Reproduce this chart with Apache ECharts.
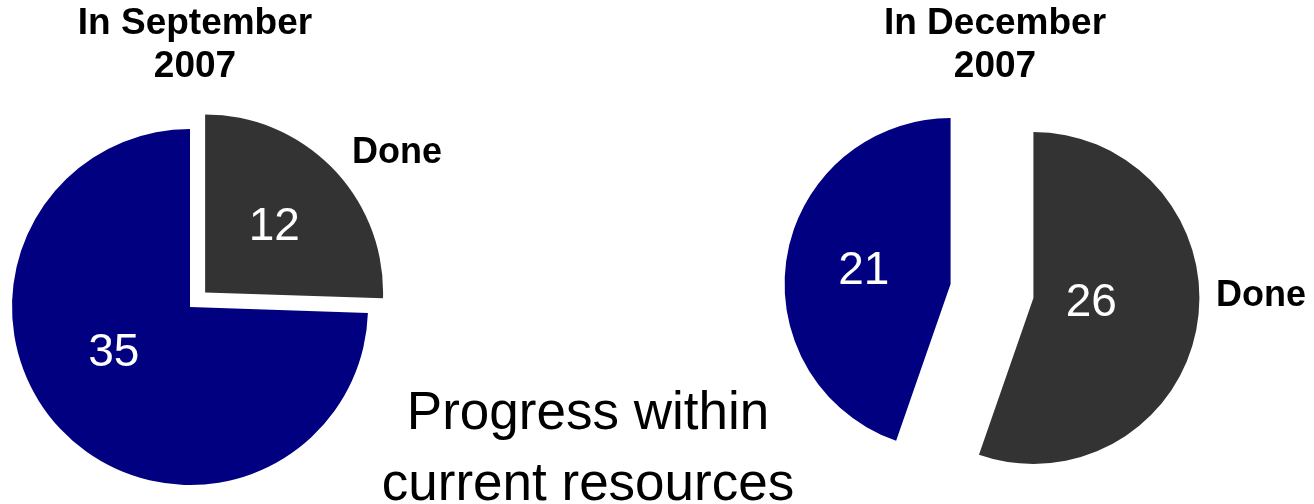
<!DOCTYPE html>
<html>
<head>
<meta charset="utf-8">
<script src="https://cdn.jsdelivr.net/npm/echarts@6/dist/echarts.min.js"></script>
<style>
html,body{margin:0;padding:0;background:#fff;}
#chart{width:1314px;height:504px;}
</style>
</head>
<body>
<div id="chart"></div>
<script>
var categories = ['Done', 'Not done'];
var septValues = [12, 35];
var decValues = [26, 21];
var septTitle = 'In September\n2007';
var decTitle = 'In December\n2007';
var doneLabel = 'Done';
var footText = 'Progress within\ncurrent resources';
var colors = ['#333333', '#000080'];

var FONT = '"Liberation Sans", Arial, sans-serif';

function makeData(values, offsets) {
  return values.map(function (v, i) {
    return {
      name: categories[i],
      value: v,
      selected: true,
      itemStyle: { color: colors[i], borderWidth: 0 },
      label: { offset: offsets[i] },
      select: {
        itemStyle: { color: colors[i], borderWidth: 0 },
        label: { offset: offsets[i] }
      }
    };
  });
}

var chart = echarts.init(document.getElementById('chart'), null, { renderer: 'canvas' });

var baseSeries = {
  type: 'pie',
  startAngle: 90,
  clockwise: true,
  selectedMode: 'multiple',
  avoidLabelOverlap: false,
  animation: false,
  silent: true,
  label: {
    show: true,
    position: 'inside',
    formatter: '{c}',
    color: '#ffffff',
    fontSize: 46,
    fontFamily: FONT,
    fontWeight: 'normal'
  },
  labelLine: { show: false },
  emphasis: { disabled: true }
};

var septSeries = Object.assign({}, baseSeries, {
  center: [190, 307],
  radius: 178,
  selectedOffset: 21,
  data: makeData(septValues, [[3, -1], [-10, -18]])
});
septSeries.data[1].selected = false;

var decSeries = Object.assign({}, baseSeries, {
  center: [992, 291],
  radius: 166,
  selectedOffset: 42,
  data: makeData(decValues, [[-27, -9], [-2, 2]])
});

function txt(text, x, y, size, weight, lh) {
  return {
    type: 'text',
    x: x,
    y: y,
    silent: true,
    style: {
      text: text,
      fill: '#000',
      font: weight + ' ' + size + 'px ' + FONT,
      textAlign: 'center',
      align: 'center',
      textVerticalAlign: 'middle',
      verticalAlign: 'middle',
      lineHeight: lh
    }
  };
}

chart.setOption({
  backgroundColor: '#ffffff',
  animation: false,
  series: [septSeries, decSeries],
  graphic: [
    txt(septTitle, 195, 45, 37, 'bold', 43),
    txt(decTitle, 995, 45, 37, 'bold', 43),
    txt(doneLabel, 397, 153, 36, 'bold', 40),
    txt(doneLabel, 1261, 296, 36, 'bold', 40),
    txt(footText, 588, 450, 53, 'normal', 71)
  ]
});
</script>
</body>
</html>
